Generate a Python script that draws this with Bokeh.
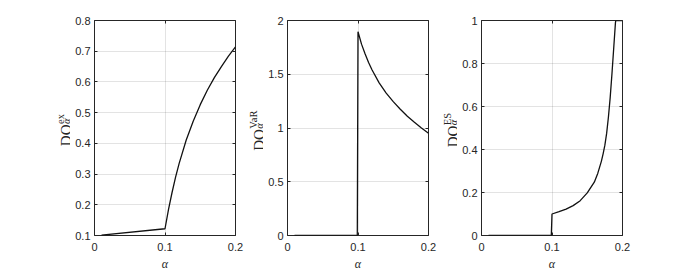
import math
from bokeh.plotting import figure
from bokeh.models import Label, LinearAxis, FixedTicker, Range1d
from bokeh.layouts import row
from bokeh.embed import file_html
from bokeh.resources import INLINE

# ---------------- data ----------------
alpha_ex = [0.01, 0.1, 0.105, 0.11, 0.115, 0.12, 0.13, 0.14, 0.15, 0.16, 0.17, 0.18, 0.19, 0.2]
dq_ex = [0.101, 0.122, 0.185, 0.24, 0.29, 0.334, 0.41, 0.472, 0.526, 0.573, 0.614, 0.65, 0.684, 0.714]

alpha_var = [0.01, 0.099, 0.1, 0.105, 0.11, 0.115, 0.12, 0.13, 0.14, 0.15, 0.16, 0.17, 0.18, 0.19, 0.2]
dq_var = [0.0, 0.0, 1.895, 1.78, 1.69, 1.61, 1.54, 1.42, 1.325, 1.245, 1.175, 1.11, 1.053, 1.0, 0.952]

alpha_es = [0.01, 0.099, 0.1, 0.11, 0.12, 0.13, 0.14, 0.15, 0.16, 0.165, 0.17, 0.1725,
            0.175, 0.1775, 0.18, 0.1825, 0.185, 0.1875, 0.19, 0.1905, 0.2]
dq_es = [0.0, 0.0, 0.1, 0.111, 0.123, 0.139, 0.162, 0.198, 0.248, 0.29, 0.345, 0.38,
         0.42, 0.475, 0.55, 0.64, 0.75, 0.87, 0.99, 1.0, 1.0]

x_ticks = [0.0, 0.1, 0.2]
x_tick_labels = ["0", "0.1", "0.2"]

ex_ticks = [0.1, 0.2, 0.3, 0.4, 0.5, 0.6, 0.7, 0.8]
ex_tick_labels = ["0.1", "0.2", "0.3", "0.4", "0.5", "0.6", "0.7", "0.8"]

var_ticks = [0.0, 0.5, 1.0, 1.5, 2.0]
var_tick_labels = ["0", "0.5", "1", "1.5", "2"]

es_ticks = [0.0, 0.2, 0.4, 0.6, 0.8, 1.0]
es_tick_labels = ["0", "0.2", "0.4", "0.6", "0.8", "1"]

y_label_main = "DQ"
y_label_sub = "α"
x_label = "α"
sup_ex = "ex"
sup_var = "VaR"
sup_es = "ES"

# ---------------- styling / layout ----------------
INK = "#262626"
H = 273
FRAME_W = 141
TOP = 20
FRAME_H = 216
BOTTOM = H - TOP - FRAME_H

SERIF_W = {"D": 0.722, "Q": 0.722, "e": 0.444, "x": 0.5, "V": 0.722,
           "a": 0.444, "R": 0.667, "E": 0.611, "S": 0.556}
MAIN_PX = 15
SUP_PX = 10.5


def text_w(s, px):
    return sum(SERIF_W.get(c, 0.5) for c in s) * px


def make_plot(xs, ys, y_start, y_end, yt, ytl, width, left, right):
    p = figure(width=width, height=H,
               x_range=Range1d(0, 0.2), y_range=Range1d(y_start, y_end),
               output_backend="svg", toolbar_location=None,
               min_border_left=left, min_border_right=right,
               min_border_top=TOP, min_border_bottom=BOTTOM)
    p.outline_line_color = INK
    p.outline_line_width = 1
    p.background_fill_color = "white"
    p.border_fill_color = "white"

    p.xaxis.ticker = FixedTicker(ticks=x_ticks)
    p.xaxis.major_label_overrides = {t: l for t, l in zip(x_ticks, x_tick_labels)}
    p.yaxis.ticker = FixedTicker(ticks=yt)
    p.yaxis.major_label_overrides = {t: l for t, l in zip(yt, ytl)}

    for ax in (p.xaxis, p.yaxis):
        ax.axis_line_color = None
        ax.major_tick_line_color = INK
        ax.major_tick_in = 3
        ax.major_tick_out = 0
        ax.minor_tick_line_color = None
        ax.major_label_text_font = "Liberation Sans"
        ax.major_label_text_font_size = "11px"
        ax.major_label_text_color = INK
    p.xaxis.major_label_standoff = 7
    p.yaxis.major_label_standoff = 4

    p.xaxis.axis_label = x_label
    p.xaxis.axis_label_text_font = "Liberation Serif"
    p.xaxis.axis_label_text_font_style = "italic"
    p.xaxis.axis_label_text_font_size = "12px"
    p.xaxis.axis_label_text_color = INK
    p.xaxis.axis_label_standoff = 3

    top_ax = LinearAxis(ticker=FixedTicker(ticks=x_ticks), axis_line_color=None,
                        major_tick_line_color=INK, major_tick_in=3, major_tick_out=0,
                        minor_tick_line_color=None, major_label_text_font_size="0px",
                        major_label_text_color=None, major_label_standoff=0)
    right_ax = LinearAxis(ticker=FixedTicker(ticks=yt), axis_line_color=None,
                          major_tick_line_color=INK, major_tick_in=3, major_tick_out=0,
                          minor_tick_line_color=None, major_label_text_font_size="0px",
                          major_label_text_color=None, major_label_standoff=0)
    p.add_layout(top_ax, "above")
    p.add_layout(right_ax, "right")

    p.xgrid.grid_line_color = INK
    p.xgrid.grid_line_alpha = 0.13
    p.ygrid.grid_line_color = INK
    p.ygrid.grid_line_alpha = 0.13

    p.line(xs, ys, line_color="#111111", line_width=1.3)
    return p


def make_ylabel(width, base_x, sup):
    """Narrow figure (same frame height as the plots) holding the rotated label."""
    f = figure(width=width, height=H, x_range=Range1d(0, 1), y_range=Range1d(0, 1),
               output_backend="svg", toolbar_location=None,
               x_axis_location=None, y_axis_location=None,
               min_border=0, min_border_left=0, min_border_right=0,
               min_border_top=TOP, min_border_bottom=BOTTOM)
    f.grid.visible = False
    f.outline_line_color = None
    f.background_fill_color = "white"
    f.border_fill_color = "white"
    w_main = text_w(y_label_main, MAIN_PX)
    w_sup = text_w(sup, SUP_PX)
    total = w_main + max(w_sup, 5.6)
    yc = (TOP + FRAME_H) - 130.9      # label centre, measured up from the frame bottom
    yb = yc - total / 2 + w_main
    f.add_layout(Label(x=base_x, y=yb, x_units="screen", y_units="screen",
                       text=y_label_main, angle=90, angle_units="deg", text_align="right",
                       text_baseline="alphabetic", text_font="Liberation Serif",
                       text_font_size=f"{MAIN_PX}px", text_color=INK))
    f.add_layout(Label(x=base_x - 5, y=yb + 0.5, x_units="screen", y_units="screen",
                       text=sup, angle=90, angle_units="deg", text_align="left",
                       text_baseline="alphabetic", text_font="Liberation Serif",
                       text_font_size=f"{SUP_PX}px", text_color=INK))
    f.add_layout(Label(x=base_x + 1, y=yb + 0.5, x_units="screen", y_units="screen",
                       text=y_label_sub, angle=90, angle_units="deg", text_align="left",
                       text_baseline="alphabetic", text_font="Liberation Serif",
                       text_font_style="italic",
                       text_font_size=f"{SUP_PX}px", text_color=INK))
    return f


# page x positions: frames start at 94, 287, 481
L1, P1, L2, P2, L3, P3 = 70, 175, 18, 176, 18, 228
l1 = make_ylabel(L1, 94 - 29, sup_ex)
p1 = make_plot(alpha_ex, dq_ex, 0.1, 0.8, ex_ticks, ex_tick_labels,
               P1, 94 - L1, P1 - (94 - L1) - FRAME_W)
x0 = L1 + P1
l2 = make_ylabel(L2, 287 - 29 - x0, sup_var)
p2 = make_plot(alpha_var, dq_var, 0.0, 2.0, var_ticks, var_tick_labels,
               P2, 287 - x0 - L2, P2 - (287 - x0 - L2) - FRAME_W)
x0 = x0 + L2 + P2
l3 = make_ylabel(L3, 481 - 29 - x0, sup_es)
p3 = make_plot(alpha_es, dq_es, 0.0, 1.0, es_ticks, es_tick_labels,
               P3, 481 - x0 - L3, P3 - (481 - x0 - L3) - FRAME_W)

layout = row(l1, p1, l2, p2, l3, p3)
open("out.html", "w").write(file_html(layout, INLINE))
